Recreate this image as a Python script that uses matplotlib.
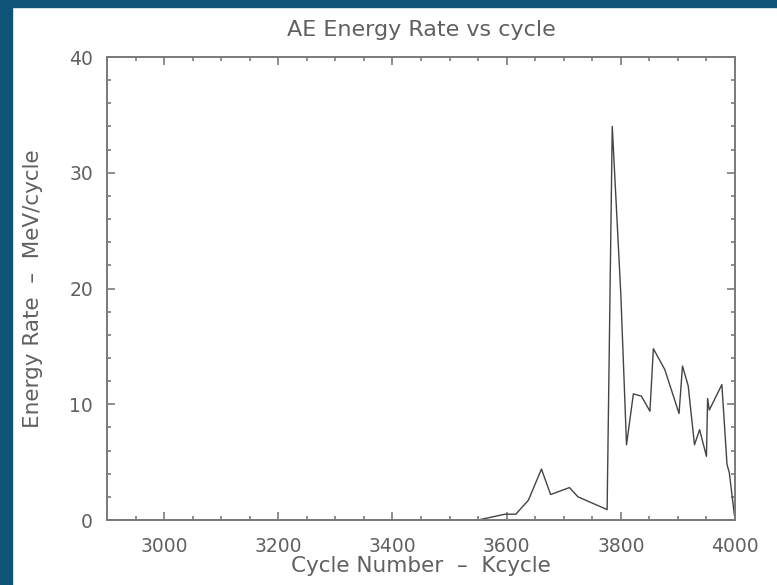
import matplotlib
matplotlib.use('Agg')
import matplotlib.pyplot as plt
from matplotlib.patches import Rectangle
from matplotlib.ticker import MultipleLocator

# cycle number (Kcycle) and AE energy rate (MeV/cycle)
cycle = [2920, 3550, 3597, 3616, 3638, 3661, 3677, 3710, 3725, 3776,
         3785, 3800, 3810, 3822, 3836, 3851, 3857, 3877, 3902, 3908,
         3918, 3929, 3938, 3950, 3952, 3955, 3977, 3986, 3990, 3999]
rate = [0, 0, 0.5, 0.5, 1.7, 4.4, 2.2, 2.8, 2.0, 0.9,
        34.0, 19.5, 6.5, 10.9, 10.7, 9.4, 14.8, 13.0, 9.2, 13.3,
        11.6, 6.5, 7.8, 5.5, 10.5, 9.5, 11.7, 4.8, 4.1, 0.4]
xticks = [3000, 3200, 3400, 3600, 3800, 4000]
yticks = [0, 10, 20, 30, 40]

txt = '#606060'
frame = '#7a7a7a'

fig = plt.figure(figsize=(7.77, 5.85), dpi=100)
# dark blue slide border on top and left
fig.patches.append(Rectangle((0, 1 - 7/585), 1, 7/585, transform=fig.transFigure,
                             color='#0e5478', zorder=0))
fig.patches.append(Rectangle((0, 0), 12/777, 1, transform=fig.transFigure,
                             color='#0e5478', zorder=0))

ax = fig.add_axes([107/777, 65/585, 628/777, 463/585])
ax.plot(cycle, rate, color='#444444', lw=1.0)

ax.set_xlim(2900, 4000)
ax.set_ylim(0, 40)
ax.set_xticks(xticks)
ax.set_yticks(yticks)
ax.xaxis.set_minor_locator(MultipleLocator(50))
ax.yaxis.set_minor_locator(MultipleLocator(2))
ax.tick_params(which='both', direction='in', top=True, right=True,
               colors=frame, labelcolor=txt, labelsize=13.5, width=1.2)
ax.tick_params(axis='x', which='major', length=6, pad=12)
ax.tick_params(axis='y', which='major', length=6, pad=10)
ax.tick_params(which='minor', length=3)
for s in ax.spines.values():
    s.set_color(frame)
    s.set_linewidth(1.4)

ax.set_title('AE Energy Rate vs cycle', color=txt, fontsize=16, pad=15)
ax.set_xlabel('Cycle Number  \u2013  Kcycle', color=txt, fontsize=15.5, labelpad=0)
ax.set_ylabel('Energy Rate  \u2013  MeV/cycle', color=txt, fontsize=15.5, labelpad=19)

fig.savefig('out.png', dpi=100)
